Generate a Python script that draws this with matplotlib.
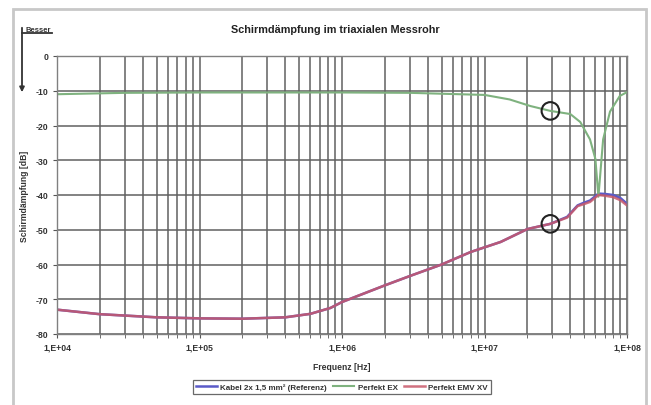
import matplotlib
matplotlib.use("Agg")
import matplotlib.pyplot as plt
from matplotlib.patches import Rectangle, FancyArrowPatch
from matplotlib.ticker import FixedLocator, LogLocator, NullFormatter

plt.rcParams['font.family'] = ['Liberation Sans', 'DejaVu Sans']

title = "Schirmdämpfung im triaxialen Messrohr"
xlabel = "Frequenz [Hz]"
ylabel = "Schirmdämpfung [dB]"
better_label = "Besser"
series_names = ["Kabel 2x 1,5 mm² (Referenz)", "Perfekt EX", "Perfekt EMV XV"]
series_colors = ["#5a5ac8", "#7fb27f", "#c8586a"]

xticks = [1e4, 1e5, 1e6, 1e7, 1e8]
xtick_labels = ["1,E+04", "1,E+05", "1,E+06", "1,E+07", "1,E+08"]
yticks = [0, -10, -20, -30, -40, -50, -60, -70, -80]

freq_green = [1e4, 3e4, 1e5, 3e5, 1e6, 3e6, 1e7, 1.5e7, 2.1e7, 2.9e7, 4.0e7, 4.7e7,
              5.5e7, 6.0e7, 6.3e7, 6.8e7, 7.6e7, 8.9e7, 1e8]
db_green = [-11.0, -10.6, -10.5, -10.5, -10.5, -10.6, -11.2, -12.5, -14.4, -15.8, -16.7, -19.0,
            -24.0, -29.6, -40.5, -24.0, -16.0, -11.5, -10.4]

freq_red = [1e4, 2e4, 5e4, 1e5, 2e5, 4e5, 6e5, 8.3e5, 1e6, 2e6, 3e6, 5e6, 8e6, 1.3e7,
            2e7, 2.9e7, 3.8e7, 4.5e7, 5e7, 5.5e7, 6.3e7, 7e7, 8e7, 9e7, 1e8]
db_red = [-73.0, -74.3, -75.2, -75.5, -75.6, -75.2, -74.2, -72.5, -70.8, -66.0, -63.3, -60.0,
          -56.4, -53.5, -49.8, -48.3, -46.5, -43.2, -42.6, -42.0, -40.0, -40.2, -40.6, -41.5, -43.0]

freq_blue = freq_red
db_blue = [-73.0, -74.3, -75.2, -75.5, -75.6, -75.2, -74.2, -72.5, -70.8, -66.0, -63.3, -60.0,
           -56.4, -53.5, -49.8, -48.3, -46.3, -43.0, -42.2, -41.6, -39.6, -39.7, -40.0, -40.9, -42.5]

marker_freqs = [2.9e7, 2.9e7]
marker_dbs = [-15.8, -48.3]

W, H = 651, 406
fig = plt.figure(figsize=(W / 100, H / 100), dpi=100)

# outer frame
fig.patches.append(Rectangle((13 / W, -0.01), (646 - 13) / W, 1.01 - 10 / H,
                             transform=fig.transFigure, fill=False,
                             edgecolor="#c8c8c8", linewidth=2))

left, right, top, bottom = 57 / W, 627 / W, 1 - 57 / H, 1 - 335 / H
ax = fig.add_axes([left, bottom, right - left, top - bottom])
ax.set_xscale('log')
ax.set_xlim(1e4, 1e8)
ax.set_ylim(-80, 0)

ax.plot(freq_blue, db_blue, color=series_colors[0], lw=1.8, label=series_names[0])
ax.plot(freq_green, db_green, color=series_colors[1], lw=1.5, label=series_names[1])
ax.plot(freq_red, db_red, color=series_colors[2], lw=1.8, alpha=0.85, label=series_names[2])

ax.scatter(marker_freqs, marker_dbs, s=160, facecolors='none', edgecolors='#222222',
           linewidths=1.5, zorder=5)

ax.xaxis.set_major_locator(FixedLocator(xticks))
ax.set_xticklabels(xtick_labels)
ax.xaxis.set_minor_locator(LogLocator(base=10, subs=range(2, 10), numticks=20))
ax.xaxis.set_minor_formatter(NullFormatter())
ax.set_yticks(yticks)
ax.set_yticklabels([str(v) for v in yticks])

ax.grid(True, which='both', axis='x', color='#606060', lw=1.1)
ax.grid(True, which='major', axis='y', color='#606060', lw=1.1)
ax.set_axisbelow(True)
for s in ax.spines.values():
    s.set_color('#808080')
    s.set_linewidth(1.0)

ax.tick_params(axis='both', which='both', labelsize=6.2, color='#555555', length=3, pad=3)
for lab in ax.get_xticklabels() + ax.get_yticklabels():
    lab.set_fontweight('bold')
    lab.set_color('#333333')

ax.set_xlabel(xlabel, fontsize=6.2, fontweight='bold', color='#333333', labelpad=8)
ax.set_ylabel(ylabel, fontsize=6.2, fontweight='bold', color='#333333', labelpad=5)
fig.text(335 / W, 1 - 30 / H, title, fontsize=7.8, fontweight='bold', color='#222222',
         ha='center', va='center')

# "Besser" arrow
fig.text(25 / W, 1 - 30 / H, better_label, fontsize=5.5, fontweight='bold', color='#333333',
         ha='left', va='center')
fig.add_artist(plt.Line2D([22 / W, 52 / W], [1 - 34 / H, 1 - 34 / H],
                          transform=fig.transFigure, color='#333333', lw=1.3))
fig.add_artist(FancyArrowPatch((22 / W, 1 - 26 / H), (22 / W, 1 - 96 / H),
                               transform=fig.transFigure, arrowstyle='-|>',
                               mutation_scale=7, color='#333333', lw=1.3))

leg = fig.legend(loc='center', bbox_to_anchor=(342 / W, 1 - 388 / H), ncol=3,
                 fontsize=5.8, frameon=True, fancybox=False, handlelength=2.6,
                 columnspacing=0.8, handletextpad=0.4, borderpad=0.35)
leg.get_frame().set_edgecolor('#444444')
leg.get_frame().set_linewidth(0.9)
for t in leg.get_texts():
    t.set_fontweight('bold')
    t.set_color('#333333')

fig.savefig("out.png", dpi=100)
